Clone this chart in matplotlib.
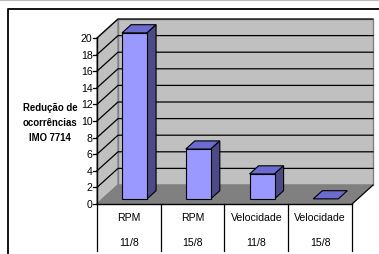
import matplotlib
matplotlib.use("Agg")
import matplotlib.pyplot as plt
from matplotlib.patches import Polygon
from matplotlib.lines import Line2D

plt.rcParams['font.family'] = ['Liberation Sans', 'DejaVu Sans']

# ---- data ----
cat_top = ["RPM", "RPM", "Velocidade", "Velocidade"]
cat_bottom = ["11/8", "15/8", "11/8", "15/8"]
values = [20, 6, 3, 0]
y_ticks = list(range(0, 21, 2))
y_label = "Redução de\nocorrências\nIMO 7714"

# ---- layout (pixel based) ----
W, H = 379, 255
DPI = 100
fig = plt.figure(figsize=(W / DPI, H / DPI), dpi=DPI)
ax = fig.add_axes([0, 0, 1, 1])
ax.set_axis_off()

x0_px, x4_px = 97, 352          # front plot area, category 0..4
y0_px_from_bottom = 50          # value 0
px_per_unit = (205 - 39) / 20.0
px_per_cat = (x4_px - x0_px) / 4.0
ax.set_xlim(-x0_px / px_per_cat, (W - x0_px) / px_per_cat)
ax.set_ylim(-y0_px_from_bottom / px_per_unit, (H - y0_px_from_bottom) / px_per_unit)

n = len(values)
ymax = 20
dx = 21 / px_per_cat            # depth offsets in data units
dy = 19 / px_per_unit

wall = '#C0C0C0'
floor = '#808080'

# back wall
ax.add_patch(Polygon([(dx, dy), (n + dx, dy), (n + dx, ymax + dy), (dx, ymax + dy)],
                     closed=True, facecolor=wall, edgecolor='#808080', lw=1.0, zorder=1))
# side wall
ax.add_patch(Polygon([(0, 0), (dx, dy), (dx, ymax + dy), (0, ymax)],
                     closed=True, facecolor=wall, edgecolor='#808080', lw=1.0, zorder=1))
# floor
ax.add_patch(Polygon([(0, 0), (n, 0), (n + dx, dy), (dx, dy)],
                     closed=True, facecolor=floor, edgecolor='#808080', lw=1.0, zorder=2))

# gridlines
for v in y_ticks[1:]:
    ax.add_line(Line2D([0, dx, n + dx], [v, v + dy, v + dy], color='black', lw=0.9, zorder=3))

# axes lines
ax.add_line(Line2D([0, 0], [0, ymax], color='black', lw=1.0, zorder=5))
ax.add_line(Line2D([0, n], [0, 0], color='black', lw=1.0, zorder=5))
ax.add_line(Line2D([n, n + dx], [0, dy], color='black', lw=0.8, zorder=5))
tick_len = 4 / px_per_cat
for v in y_ticks:
    ax.add_line(Line2D([-tick_len, 0], [v, v], color='black', lw=0.9, zorder=5))
    ax.text(-tick_len - 0.5 / px_per_cat, v, str(v), ha='right', va='center',
            fontsize=7.6, color='black')

# bars
bw = 25 / px_per_cat
f_front = 0.27
f_depth = 0.43
bdx, bdy = f_depth * dx, f_depth * dy
for i, v in enumerate(values):
    cx = i + 0.5 + f_front * dx
    xl = cx - bw / 2
    yb = f_front * dy
    yt = v + yb
    # top
    ax.add_patch(Polygon([(xl, yt), (xl + bw, yt), (xl + bw + bdx, yt + bdy), (xl + bdx, yt + bdy)],
                         closed=True, facecolor='#6B6BD0', edgecolor='black', lw=0.8, zorder=10 + i))
    if v > 0:
        # side
        ax.add_patch(Polygon([(xl + bw, yb), (xl + bw + bdx, yb + bdy), (xl + bw + bdx, yt + bdy), (xl + bw, yt)],
                             closed=True, facecolor='#4B4B86', edgecolor='black', lw=0.8, zorder=10 + i))
        # front
        ax.add_patch(Polygon([(xl, yb), (xl + bw, yb), (xl + bw, yt), (xl, yt)],
                             closed=True, facecolor='#9999FF', edgecolor='black', lw=0.8, zorder=10 + i))

# table under the axis
y_tab_bottom = (3 - y0_px_from_bottom) / px_per_unit
for i in range(n + 1):
    ax.add_line(Line2D([i, i], [0, y_tab_bottom], color='black', lw=0.9, zorder=5))
y_row1 = ((H - 218) - y0_px_from_bottom) / px_per_unit
y_row2 = ((H - 243) - y0_px_from_bottom) / px_per_unit
for i in range(n):
    ax.text(i + 0.5, y_row1, cat_top[i], ha='center', va='center', fontsize=7.6)
    ax.text(i + 0.5, y_row2, cat_bottom[i], ha='center', va='center', fontsize=7.6)

# y label
ax.text((50 - x0_px) / px_per_cat, ((H - 123) - y0_px_from_bottom) / px_per_unit, y_label,
        ha='center', va='center', fontsize=6.9, fontweight='bold', linespacing=1.6,
        multialignment='center')

# outer frame (chart area) - top and left visible
fx = (8 - x0_px) / px_per_cat
fy = ((H - 10) - y0_px_from_bottom) / px_per_unit
ybot = ax.get_ylim()[0]
xright = ax.get_xlim()[1]
ax.add_line(Line2D([fx, fx, xright], [ybot, fy, fy], color='black', lw=1.3, zorder=20))
# faint top line
ftop = ((H - 1) - y0_px_from_bottom) / px_per_unit
ax.add_line(Line2D([ax.get_xlim()[0], xright], [ftop, ftop], color='#BBBBBB', lw=0.8, zorder=20))

fig.savefig("out.png", dpi=DPI)
